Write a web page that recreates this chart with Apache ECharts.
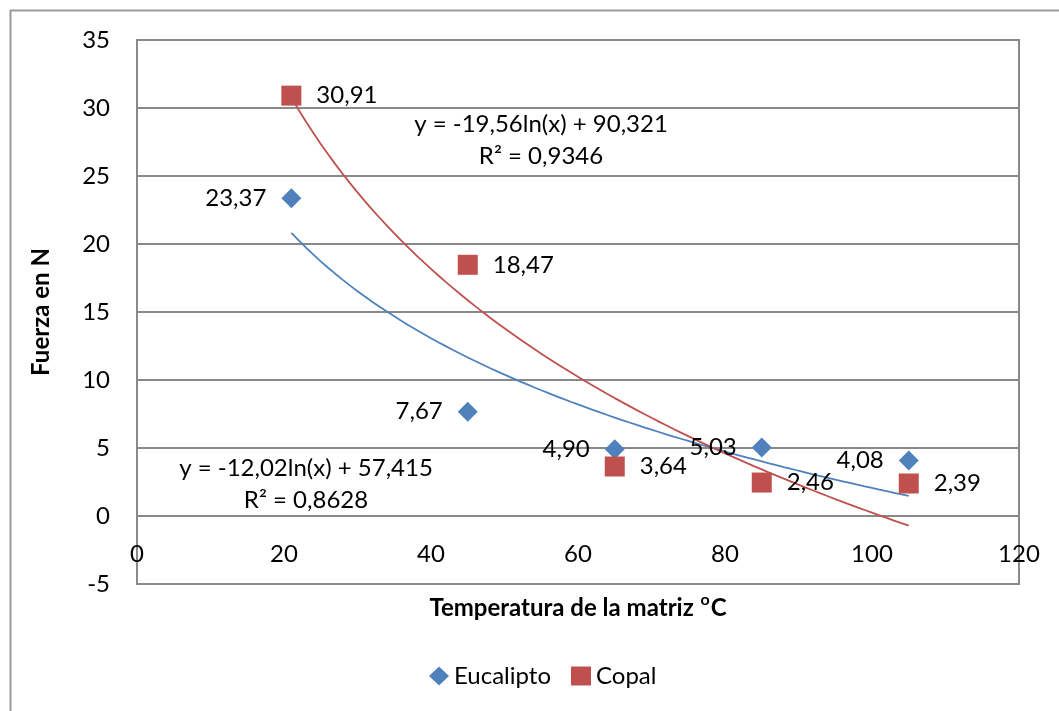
<!DOCTYPE html>
<html>
<head>
<meta charset="utf-8">
<script src="https://cdn.jsdelivr.net/npm/echarts@6/dist/echarts.min.js"></script>
<style>
  html, body { margin: 0; padding: 0; background: #fff; }
  #chart { width: 1059px; height: 711px; }
</style>
</head>
<body>
<div id="chart"></div>
<script>
// Matrix temperature (ºC) at which each sample was tested
const temperatures = [21, 45, 65, 85, 105];
// Measured force (N)
const eucaliptoForce = [23.37, 7.67, 4.90, 5.03, 4.08];
const copalForce = [30.91, 18.47, 3.64, 2.46, 2.39];

// Logarithmic trendlines: y = a·ln(x) + b, as printed on the chart
const eucaliptoFit = { a: -12.02, b: 57.415, r2: '0,8628' };
const copalFit = { a: -19.56, b: 90.321, r2: '0,9346' };

// Axis ranges
const X_MIN = 0, X_MAX = 120, X_STEP = 20;
const Y_MIN = -5, Y_MAX = 35, Y_STEP = 5;

const FONT = 'Lato, "Open Sans", sans-serif';
const BLUE = '#4F81BD';
const RED = '#C0504D';
const GRID = '#898989';

const PLOT = { left: 137, top: 40, right: 40, bottom: 127 };
const PLOT_H = 711 - PLOT.top - PLOT.bottom;
// The horizontal axis crosses the vertical one at y = 0
const zeroOffset = -PLOT_H * (0 - Y_MIN) / (Y_MAX - Y_MIN);

const fmt = v => v.toFixed(2).replace('.', ',');
const fmtEq = f => 'y = ' + String(f.a).replace('.', ',') + 'ln(x) + ' + String(f.b).replace('.', ',');

// Sample the fitted curve across the measured temperature range
function trend(fit) {
  const lo = temperatures[0], hi = temperatures[temperatures.length - 1];
  const pts = [];
  for (let i = 0; i <= 84; i++) {
    const x = lo + (hi - lo) * i / 84;
    pts.push([x, fit.a * Math.log(x) + fit.b]);
  }
  return pts;
}

const chart = echarts.init(document.getElementById('chart'));

const labelStyle = { fontFamily: FONT, fontSize: 24, color: '#000' };

chart.setOption({
  animation: false,
  grid: { ...PLOT, show: true, borderColor: GRID, borderWidth: 2 },
  xAxis: {
    type: 'value', min: X_MIN, max: X_MAX, interval: X_STEP,
    offset: zeroOffset,
    name: 'Temperatura de la matriz {sup|o}C',
    nameLocation: 'middle', nameGap: 76,
    nameTextStyle: {
      fontFamily: FONT, fontSize: 24, fontWeight: 'bold', color: '#000',
      rich: { sup: { fontFamily: FONT, fontSize: 16, fontWeight: 'bold', color: '#000', padding: [0, 1, 16, 1] } }
    },
    axisLine: { onZero: false, lineStyle: { color: GRID, width: 2 } },
    axisTick: { show: false },
    axisLabel: { margin: 26, fontFamily: FONT, fontSize: 24, color: '#000' },
    splitLine: { show: false }
  },
  yAxis: {
    type: 'value', min: Y_MIN, max: Y_MAX, interval: Y_STEP,
    name: 'Fuerza en N', nameLocation: 'middle', nameGap: 84, nameRotate: 90,
    nameTextStyle: { fontFamily: FONT, fontSize: 24, fontWeight: 'bold', color: '#000' },
    axisLine: { show: true, onZero: false, lineStyle: { color: GRID, width: 2 } },
    axisTick: { show: false },
    axisLabel: { margin: 27, fontFamily: FONT, fontSize: 24, color: '#000' },
    splitLine: { lineStyle: { color: GRID, width: 2 } }
  },
  legend: {
    data: ['Eucalipto', 'Copal'],
    bottom: 18, left: 424,
    itemWidth: 20, itemHeight: 19, itemGap: 20,
    textStyle: { fontFamily: FONT, fontSize: 24, color: '#000' }
  },
  series: [
    {
      name: 'Eucalipto trend', type: 'line', data: trend(eucaliptoFit),
      showSymbol: false, smooth: false, silent: true, z: 2,
      lineStyle: { color: BLUE, width: 1.8 }
    },
    {
      name: 'Copal trend', type: 'line', data: trend(copalFit),
      showSymbol: false, smooth: false, silent: true, z: 2,
      lineStyle: { color: RED, width: 1.8 }
    },
    {
      name: 'Eucalipto', type: 'scatter', symbol: 'diamond', symbolSize: 20, z: 3,
      itemStyle: { color: BLUE, opacity: 1 },
      data: temperatures.map((t, i) => [t, eucaliptoForce[i]]),
      label: { show: true, position: 'left', distance: 15, formatter: p => fmt(p.value[1]), ...labelStyle }
    },
    {
      name: 'Copal', type: 'scatter', symbol: 'rect', symbolSize: 20, z: 3,
      itemStyle: { color: RED, opacity: 1 },
      data: temperatures.map((t, i) => [t, copalForce[i]]),
      label: { show: true, position: 'right', distance: 15, formatter: p => fmt(p.value[1]), ...labelStyle }
    }
  ],
  graphic: [
    {
      type: 'rect', silent: true, z: -1,
      shape: { x: 10.5, y: 10.5, width: 1100, height: 760 },
      style: { fill: 'none', stroke: '#9a9a9a', lineWidth: 2 }
    },
    {
      type: 'text', x: 306, y: 452, silent: true,
      style: {
        text: fmtEq(eucaliptoFit) + '\nR² = ' + eucaliptoFit.r2,
        fontFamily: FONT, fontSize: 24, lineHeight: 32, fill: '#000', align: 'center', verticalAlign: 'top'
      }
    },
    {
      type: 'text', x: 541, y: 108, silent: true,
      style: {
        text: fmtEq(copalFit) + '\nR² = ' + copalFit.r2,
        fontFamily: FONT, fontSize: 24, lineHeight: 32, fill: '#000', align: 'center', verticalAlign: 'top'
      }
    }
  ]
});
</script>
</body>
</html>
